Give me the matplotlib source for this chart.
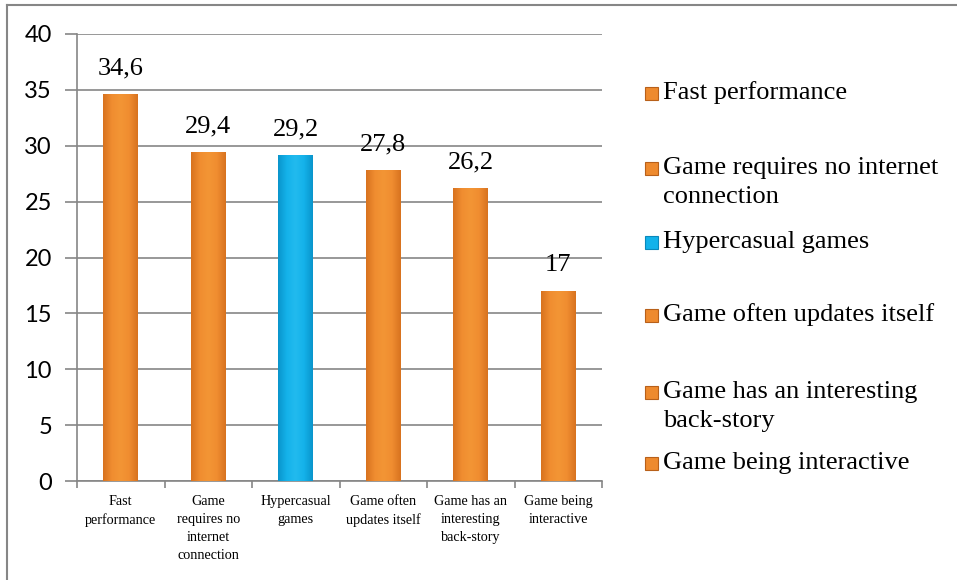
import numpy as np
import matplotlib
matplotlib.use("Agg")
import matplotlib.pyplot as plt
from matplotlib.colors import LinearSegmentedColormap
from matplotlib.patches import Rectangle
from matplotlib.lines import Line2D

categories = ["Fast performance", "Game requires no internet connection",
              "Hypercasual games", "Game often updates itself",
              "Game has an interesting back-story", "Game being interactive"]
tick_labels = ["Fast\nperformance", "Game\nrequires no\ninternet\nconnection",
               "Hypercasual\ngames", "Game often\nupdates itself",
               "Game has an\ninteresting\nback-story", "Game being\ninteractive"]
legend_labels = ["Fast performance", "Game requires no internet\nconnection",
                 "Hypercasual games", "Game often updates itself",
                 "Game has an interesting\nback-story", "Game being interactive"]
values = [34.6, 29.4, 29.2, 27.8, 26.2, 17]
value_text = ["34,6", "29,4", "29,2", "27,8", "26,2", "17"]
is_blue = [False, False, True, False, False, False]

orange = "#EE8A2E"
blue = "#12B2EA"
grey = "#868686"

cmap_orange = LinearSegmentedColormap.from_list("o", ["#D8731F", "#F08D30", "#F39535", "#F08D30", "#D8731F"])
cmap_blue = LinearSegmentedColormap.from_list("b", ["#0A95CC", "#14B2EA", "#22BAEE", "#14B2EA", "#0A95CC"])

fig = plt.figure(figsize=(9.57, 5.8), dpi=100)
ax = fig.add_axes([77 / 957, 1 - 481 / 580, 525 / 957, 447 / 580])

x = np.arange(len(values))
colors = [blue if b else orange for b in is_blue]
bars = ax.bar(x, values, width=0.4, color=colors, edgecolor="none", zorder=3)

# gradient shading inside each bar
grad = np.linspace(0, 1, 64).reshape(1, -1)
for b, blu in zip(bars, is_blue):
    bx, bw, bh = b.get_x(), b.get_width(), b.get_height()
    im = ax.imshow(grad, extent=[bx, bx + bw, 0, bh], aspect="auto",
                   cmap=cmap_blue if blu else cmap_orange, zorder=4)
    im.set_clip_path(b)

for xi, v, t in zip(x, values, value_text):
    ax.text(xi, v + 1.3, t, ha="center", va="bottom", fontsize=19,
            family="Liberation Serif", color="black")

ax.set_xlim(-0.5, 5.5)
ax.set_ylim(0, 40)
ax.set_yticks(np.arange(0, 41, 5))
ax.yaxis.grid(True, color=grey, linewidth=1.2, zorder=0)
ax.set_axisbelow(True)

ax.set_xticks(x)
ax.set_xticklabels(tick_labels, family="Liberation Serif", fontsize=10.2, linespacing=1.5)
ax.set_xticks(np.arange(-0.5, 6, 1), minor=True)
ax.tick_params(axis="x", which="major", length=0, pad=10)
ax.tick_params(axis="x", which="minor", length=5, color=grey, width=1.2, direction="out")
ax.tick_params(axis="y", length=9, color=grey, width=1.2, pad=9)
for lab in ax.get_yticklabels():
    lab.set_family("Lato")
    lab.set_fontsize(17)

for s in ["top", "right"]:
    ax.spines[s].set_visible(False)
for s in ["left", "bottom"]:
    ax.spines[s].set_color(grey)
    ax.spines[s].set_linewidth(1.2)

# legend drawn by hand, one text per line
legend_y = [93, 168, 242, 315, 392, 463]
for lab, yy, blu in zip(legend_labels, legend_y, is_blue):
    fy = 1 - yy / 580
    fig.patches.append(Rectangle((645 / 957, fy - 6.5 / 580), 13 / 957, 13 / 580,
                                 transform=fig.transFigure, facecolor=blue if blu else orange,
                                 edgecolor="#0A88BB" if blu else "#B8601A", linewidth=0.8))
    for k, line in enumerate(lab.split("\n")):
        fig.text(663 / 957, 1 - (yy + 29 * k) / 580, line, ha="left", va="center",
                 fontsize=19, family="Liberation Serif")

# outer chart border (left and top only visible)
fig.add_artist(Line2D([7 / 957, 7 / 957], [1 - 5 / 580, 0], color=grey, linewidth=1.5))
fig.add_artist(Line2D([7 / 957, 1], [1 - 5 / 580, 1 - 5 / 580], color=grey, linewidth=1.5))

fig.savefig("out.png", dpi=100)
